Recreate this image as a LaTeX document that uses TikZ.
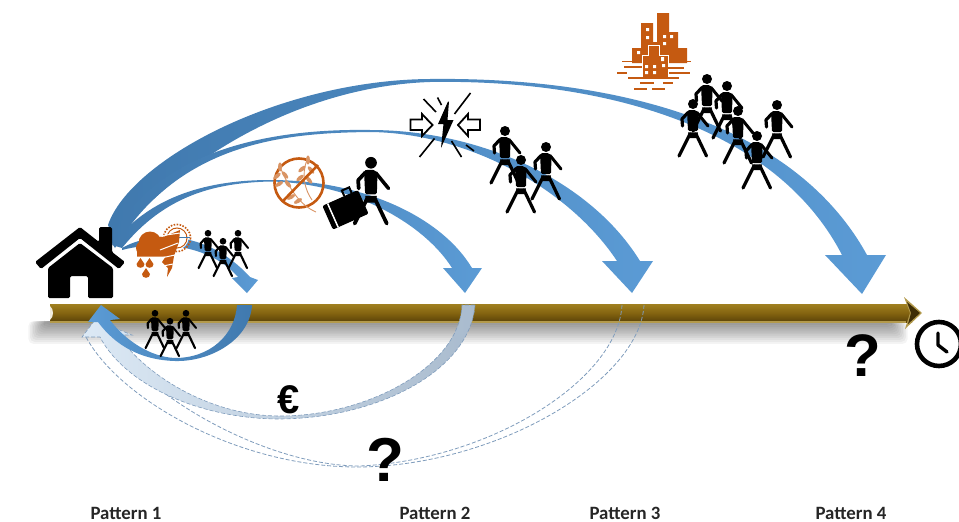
\documentclass[tikz,border=0pt]{standalone}
\usepackage{fontspec}
\setmainfont{Liberation Sans}
\newfontfamily\lblfont{Carlito}
\usetikzlibrary{calc}
\definecolor{flow}{HTML}{5B9BD5}
\definecolor{flowdark}{HTML}{4079AE}
\definecolor{icon}{HTML}{C55A11}
\definecolor{dashc}{HTML}{7F9CBC}
\definecolor{barhi}{HTML}{A08020}
\definecolor{barmid}{HTML}{846410}
\definecolor{barlow}{HTML}{5A4208}
\definecolor{retlight}{HTML}{DCE9F5}
\definecolor{retgrey}{HTML}{A9BBCE}
\tikzset{
  flowarc/.style={shade,left color=flowdark,right color=flow,draw=none},
  dashline/.style={draw=dashc,dashed,dash pattern=on 4pt off 2pt,line width=.8pt},
  patlabel/.style={font=\lblfont\bfseries\fontsize{18.8}{20}\selectfont,text=black!85,inner sep=0pt},
  bigmark/.style={font=\bfseries,inner sep=0pt,text=black},
}
\newcommand{\walker}[4]{% x,y,scale,flip
\begin{scope}[shift={(#1,#2)},xscale=#4*#3,yscale=#3]
 \fill[black] (0,-25) circle (5);
 \fill[black,rounded corners=1.5pt] (-6,-18.5) -- (-2,-19) -- (3,-19) -- (5.5,-15) -- (5,2) -- (-5,2) -- cycle;
 \draw[black,line width=#3*3.2pt,line cap=round,line join=round] (-5,-16.5) -- (-11,-10) -- (-10.5,-3);
 \draw[black,line width=#3*3pt,line cap=round,line join=round] (4,-16.5) -- (15,-3);
 \fill[black] (-5,3.3) -- (5,3.3) -- (3.5,9) -- (-3.5,9) -- cycle;
 \draw[black,line width=#3*3.2pt,line cap=round] (-3,5) -- (-14,27);
 \draw[black,line width=#3*3.2pt,line cap=round] (3,5) -- (13.5,27);
\end{scope}}
\begin{document}
\begin{tikzpicture}[x=1pt,y=-1pt]
\useasboundingbox (0,0) rectangle (959,522);
% axis shadow
\foreach \i in {1,...,11}{
  \fill[black,opacity=.045,rounded corners=5pt] ({46-1.6*\i},321) rectangle ({890+1.6*\i},{323+1.9*\i});
}
% axis
\shade[top color=barhi,bottom color=barlow,middle color=barmid] (50,304) rectangle (912,322);
\fill[barhi] (50,303.5) rectangle (906,305);
\fill[barhi!80!white] (50,321.3) rectangle (906,322.5);
\fill[white!85!barhi] (50,306) .. controls (54,309) and (54,317) .. (50,320) -- cycle;
\fill[barhi!80!white] (904,297) -- (922,313) -- (905,329) -- (910,313) -- cycle;
\fill[barlow!70!black] (907,302) -- (920,313) -- (908,324) -- (911,313) -- cycle;
% upper flows
\path[flowarc] (108,225) .. controls (130,160) and (280,80) .. (430,79)
  .. controls (600,77) and (790,115) .. (867,255) -- (886,255) -- (862,294) -- (825,255) -- (842,255)
  .. controls (775,125) and (600,79) .. (430,82)
  .. controls (310,86) and (190,150) .. (114,240) -- cycle;
\path[flowarc] (110,240) .. controls (150,160) and (250,128) .. (370,130)
  .. controls (480,130) and (590,180) .. (640,261) -- (653,261) -- (632,293) -- (602,261) -- (617,261)
  .. controls (570,190) and (470,133) .. (370,132)
  .. controls (290,133) and (180,140) .. (115,248) -- cycle;
\path[flowarc] (112,245) .. controls (150,195) and (210,180) .. (270,180)
  .. controls (360,180) and (440,215) .. (472,268) -- (482,268) -- (465,293) -- (443,268) -- (452,268)
  .. controls (425,225) and (355,183) .. (270,181.5)
  .. controls (215,183) and (165,195) .. (122,248) -- cycle;
\path[flowarc] (122,248) .. controls (150,232) and (205,228) .. (250,277) -- (258,280) -- (247,293) -- (232,278) -- (238,277)
  .. controls (210,245) and (160,240) .. (122,250) -- cycle;
% return flows
\draw[dashline] (644,305) .. controls (640,380) and (500,465) .. (360,467) .. controls (240,468) and (120,400) .. (86,337);
\draw[dashline] (622,305) .. controls (618,380) and (490,460) .. (360,466) .. controls (270,466) and (150,400) .. (108,337);
\shade[left color=retlight,right color=retgrey,draw=dashc,dashed,dash pattern=on 4pt off 2pt,line width=.6pt]
  (475,305) .. controls (470,370) and (380,418) .. (280,419) .. controls (200,419) and (125,385) .. (100,337)
  -- (82,337) -- (95,320) -- (132,335) -- (118,335)
  .. controls (145,375) and (210,416) .. (280,416) .. controls (370,416) and (460,365) .. (462,305) -- cycle;
\shade[left color=flow,right color=flowdark]
  (252,305) .. controls (250,340) and (210,362) .. (175,361) .. controls (140,360) and (115,345) .. (98,322)
  -- (88,322) -- (101,305) -- (120,319) -- (110,320)
  .. controls (125,340) and (150,357) .. (175,358) .. controls (210,358) and (235,335) .. (237,305) -- cycle;
% house
\fill[black,rounded corners=1.5pt] (80,227) -- (99,242) -- (99,227) -- (112,227) -- (112,252) -- (125,262) -- (119,269) -- (80,238) -- (41,269) -- (35,262) -- cycle;
\fill[black,rounded corners=1.5pt] (48,268) -- (80,243) -- (113,268) -- (113,298) -- (88,298) -- (88,276) -- (70,276) -- (70,298) -- (48,298) -- cycle;
% walkers
\walker{208}{250}{.67}{1}\walker{238}{250}{.67}{1}\walker{223}{258}{.67}{1}
\walker{155}{330}{.67}{1}\walker{186}{330}{.67}{1}\walker{170}{338}{.67}{1}
\walker{505}{156}{1}{1}\walker{546}{172}{1}{1}\walker{521}{185}{1}{1}
\walker{707}{104}{1}{1}\walker{727}{111}{1}{1}\walker{693}{129}{1}{1}
\walker{738}{136}{1}{1}\walker{777}{130}{1}{1}\walker{757}{161}{1}{1}
\walker{371}{192}{1.17}{1}
% suitcase
\begin{scope}[shift={(345,210)},rotate=24]
  \fill[black,rounded corners=2pt] (-19,-13) rectangle (20,13);
  \fill[white] (-14,-13) rectangle (-12.5,13);
  \draw[black,line width=2pt] (5,-13) -- (5,-19) -- (13,-19) -- (13,-13);
\end{scope}
% storm
\draw[icon,line width=1.6pt,dash pattern=on 1.6pt off 1.4pt] (177,238) circle (13.5);
\fill[white] (177,238) circle (11.5);
\draw[icon,line width=1pt] (177,238) circle (10);
\fill[white] (177,238) circle (9);
\fill[flowdark] (162,236.5) rectangle (190,238);
\fill[icon] (150,243) circle (11.5) (143,248) circle (7) (160,245) circle (8.5) (137,248) -- (170,248) -- (170,256.5) -- (137,256.5) -- cycle;
\fill[icon] (161,238) -- (180,230) -- (179,242) -- (174,256) -- (172,268) -- (167,277) -- (168,268) -- (162,262) -- (166,256) -- (161,250) -- cycle;
\draw[white,line width=1pt] (159,236) -- (180,233) (160,250) -- (178,243) (161,258) -- (175,255) (163,266) -- (173,264);
\fill[icon] (140.5,258) -- (144.5,264) .. controls (145,269) and (136,269) .. (136.5,264) -- cycle;
\fill[icon] (149.5,258) -- (153.5,264) .. controls (154,269) and (145,269) .. (145.5,264) -- cycle;
\fill[icon] (146,268) -- (150,274) .. controls (150.5,279) and (141.5,279) .. (142,274) -- cycle;
% wheat
\draw[icon,line width=2.6pt] (299,183) circle (24.5);
\begin{scope}[icon!65!white]
 \draw[line width=.9pt] (280,167) .. controls (290,190) and (300,205) .. (316,212);
 \draw[line width=.9pt] (307,160) .. controls (301,175) and (305,190) .. (312,200);
 \foreach \px/\py/\ang in {280/167/90,277/176/40,285/175/130,279/184/30,288/184/130,291/197/30,298/201/30,308/160/90,302/169/40,311/170/130,300/178/40,309/180/130}{
   \fill[rotate around={\ang:(\px,\py)}] (\px,\py) ellipse (4.6 and 2);
 }
\end{scope}
\draw[icon,line width=2.6pt] (318,165) -- (282,202);
% conflict
\fill[black] (448,101.5) -- (438,124) -- (443.5,124) -- (441,148) -- (453.5,120) -- (447.5,120) -- (449,101.5) -- cycle;
\draw[black,line width=1.8pt,line join=miter] (410.5,119.5) -- (422,119.5) -- (422,114) -- (432.5,125) -- (422,136) -- (422,130) -- (410.5,130) -- cycle;
\draw[black,line width=1.8pt,line join=miter] (480,119.5) -- (468,119.5) -- (468,114) -- (458,125) -- (468,136) -- (468,130) -- (480,130) -- cycle;
\draw[black,line width=1.6pt] (423.5,99) -- (436,112) (437.5,97.5) -- (441.5,105) (470.5,93) -- (454.5,114) (434.5,138.5) -- (419.5,157) (451.5,141) -- (461.5,157) (466,145) -- (474,151);
% city
\fill[icon] (657,13) rectangle (669,50) (641,23) rectangle (653,50) (669,32) rectangle (678,53) (632,48) rectangle (687,63) (653,42) rectangle (657,50);
\draw[white,line width=1pt,fill=icon] (642,55) -- (648,55) -- (648,45) -- (659,45) -- (659,55) -- (668,55) -- (668,77) -- (642,77) -- cycle;
\fill[white] (646,28) rectangle (649,31) (646,36) rectangle (649,39) (663,35) rectangle (666,38) (670,35) rectangle (673,38) (663,42) rectangle (666,45) (637,51) rectangle (640,54);
\fill[white] (661,57) rectangle (664,61) (645,65) rectangle (648,68) (653,65) rectangle (656,68) (662,64) rectangle (665,67) (645,71) rectangle (648,74) (653,71) rectangle (656,74);
\draw[icon,line width=1.2pt] (622,61.5) -- (632,61.5) (680,61.5) -- (691,61.5) (624,67) -- (642,67) (668,68) -- (684,68) (617,73) -- (627,73) (669,73) -- (690,73) (628,78) -- (679,78) (640,83) -- (654,83) (663,83) -- (673,83) (634,89) -- (647,89) (652,89) -- (665,89);
% clock
\draw[black,line width=4.6pt] (939,344) circle (22);
\draw[black,line width=3.4pt,line cap=round,line join=round] (938,333) -- (938,345) -- (947,352);
% labels
\node[bigmark,font=\bfseries\fontsize{60}{60}\selectfont] (qfour) at (863,356) {?};
\node[bigmark,font=\bfseries\fontsize{62}{62}\selectfont] (qtwo) at (385,460) {?};
\node[bigmark,font=\bfseries\fontsize{40}{40}\selectfont] (euro) at (289,400) {€};
\node[patlabel] (patone) at (126,513) {Pattern 1};
\node[patlabel] (pattwo) at (435,513) {Pattern 2};
\node[patlabel] (patthree) at (625,513) {Pattern 3};
\node[patlabel] (patfour) at (851,513) {Pattern 4};
\end{tikzpicture}
\end{document}
